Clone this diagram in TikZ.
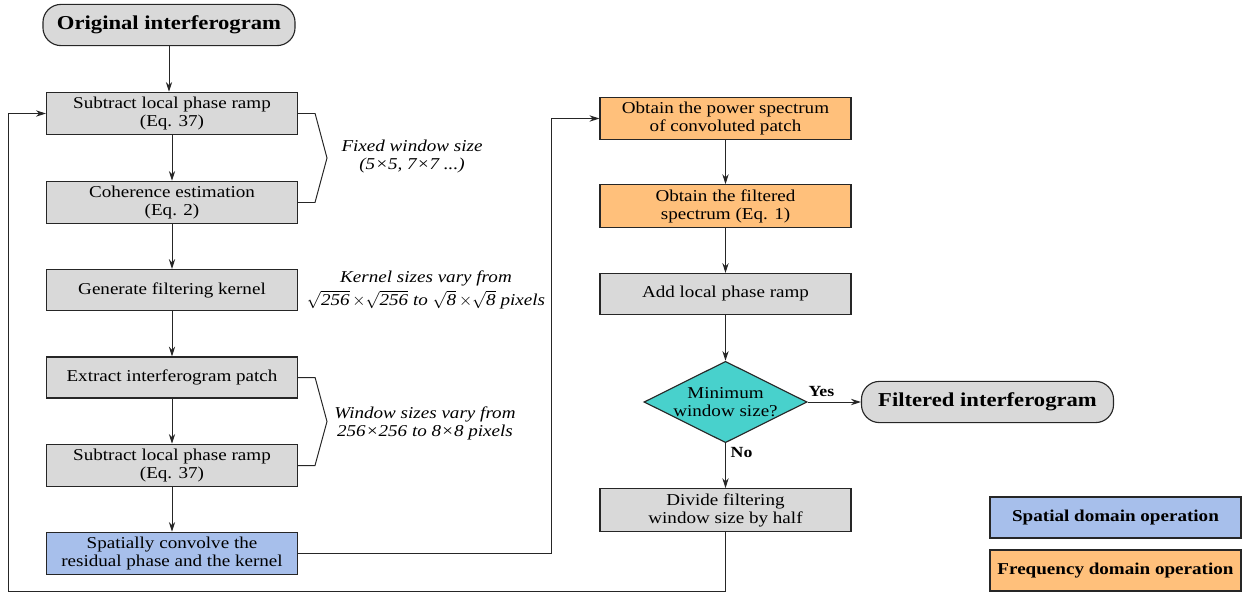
\documentclass[tikz,border=0pt]{standalone}
\usepackage{fontspec}
\setmainfont{Liberation Serif}[FakeStretch=1.15]
\usepackage{tikz}
\usetikzlibrary{shapes.geometric, arrows.meta}

\definecolor{boxgray}{HTML}{D9D9D9}
\definecolor{spatialblue}{HTML}{A7BFEB}
\definecolor{freqorange}{HTML}{FFC07B}
\definecolor{decideteal}{HTML}{48D1CC}

\begin{document}
\begin{tikzpicture}[x=0.025cm, y=-0.025cm,
    txt/.style = {font=\fontsize{11.8}{12.8}\selectfont, align=center},
    proc/.style = {txt, draw=black!85, line width=0.8pt, fill=boxgray,
      minimum width=6.275cm, minimum height=1.025cm},
    spatial/.style = {proc, fill=spatialblue},
    freq/.style = {proc, fill=freqorange},
    term/.style = {draw=black!85, line width=0.8pt, fill=boxgray, rounded corners=0.45cm,
      font=\fontsize{14}{16}\selectfont\bfseries, minimum width=6.3cm, minimum height=1.03cm},
    decide/.style = {txt, diamond, aspect=2, draw=black!85, line width=0.8pt, fill=decideteal,
      inner sep=0pt, minimum width=4.075cm, minimum height=2.025cm},
    note/.style = {txt, font=\fontsize{11.8}{12.8}\selectfont\itshape},
    tag/.style = {font=\fontsize{11}{12}\selectfont\bfseries},
    link/.style = {draw=black!85, line width=0.7pt},
    arr/.style = {link, -{Stealth[length=7pt, width=4.5pt]}}
  ]
  \useasboundingbox (0,0) rectangle (1248,593);

  % spatial column
  \node [term] (orig) at (169,25) {Original interferogram};
  \node [proc] (ramp1) at (172,113.5) {Subtract local phase ramp\\(Eq. 37)};
  \node [proc] (coher) at (172,202.5) {Coherence estimation\\(Eq. 2)};
  \node [proc] (kern) at (172,290) {Generate filtering kernel};
  \node [proc] (patch) at (172,377.5) {Extract interferogram patch};
  \node [proc] (ramp2) at (172,465.5) {Subtract local phase ramp\\(Eq. 37)};
  \node [spatial] (conv) at (172,553.5) {Spatially convolve the\\residual phase and the kernel};

  \draw [arr] (orig.south) -- (orig.south |- ramp1.north);
  \draw [arr] (ramp1) -- (coher);
  \draw [arr] (coher) -- (kern);
  \draw [arr] (kern) -- (patch);
  \draw [arr] (patch) -- (ramp2);
  \draw [arr] (ramp2) -- (conv);

  % side notes
  \draw [link] (ramp1.east) -- ++(17,0) -- (327,158) -- ++(-12,44.5) -- (coher.east);
  \node [note] (fixed) at (412,157) {Fixed window size\\(5×5, 7×7 ...)};
  \node [note] (ksize) at (426,290)
    {Kernel sizes vary from\\[4pt]$\smash{\sqrt{\textit{256}}}\,{\times}\smash{\sqrt{\textit{256}}}$ to $\smash{\sqrt{\textit{8}}}\,{\times}\smash{\sqrt{\textit{8}}}$ pixels};
  \draw [link] (patch.east) -- ++(17,0) -- (327,421.5) -- ++(-12,44) -- (ramp2.east);
  \node [note] (wsize) at (425,423.5) {Window sizes vary from\\256×256 to 8×8 pixels};

  % frequency column
  \node [freq] (power) at (725.5,118.5) {Obtain the power spectrum\\of convoluted patch};
  \node [freq] (filt) at (725.5,206) {Obtain the filtered\\spectrum (Eq. 1)};
  \node [proc] (addramp) at (725.5,294) {Add local phase ramp};
  \node [decide] (minwin) at (725.5,402) {Minimum\\window size?};
  \node [term] (final) at (987.5,402) {Filtered interferogram};
  \node [proc] (divide) at (725.5,510) {Divide filtering\\window size by half};

  \draw [arr] (conv.east) -- ++(253,0) |- (power.west);
  \draw [arr] (power) -- (filt);
  \draw [arr] (filt) -- (addramp);
  \draw [arr] (addramp) -- (minwin);
  \draw [arr] (minwin.east) -- node [tag, pos=0.26, above] {Yes} (final.west);
  \draw [arr] (minwin.south) -- node [tag, pos=0.2, right] {No} (divide.north);

  % loop back
  \coordinate (back) at (8,591);
  \draw [arr] (divide.south) |- (back) |- (ramp1.west);

  % legend
  \node [spatial, font=\fontsize{11.8}{12.8}\selectfont\bfseries] (legsp) at (1115.5,517.5) {Spatial domain operation};
  \node [freq, font=\fontsize{11.8}{12.8}\selectfont\bfseries] (legfr) at (1115.5,570.5) {Frequency domain operation};
\end{tikzpicture}
\end{document}
